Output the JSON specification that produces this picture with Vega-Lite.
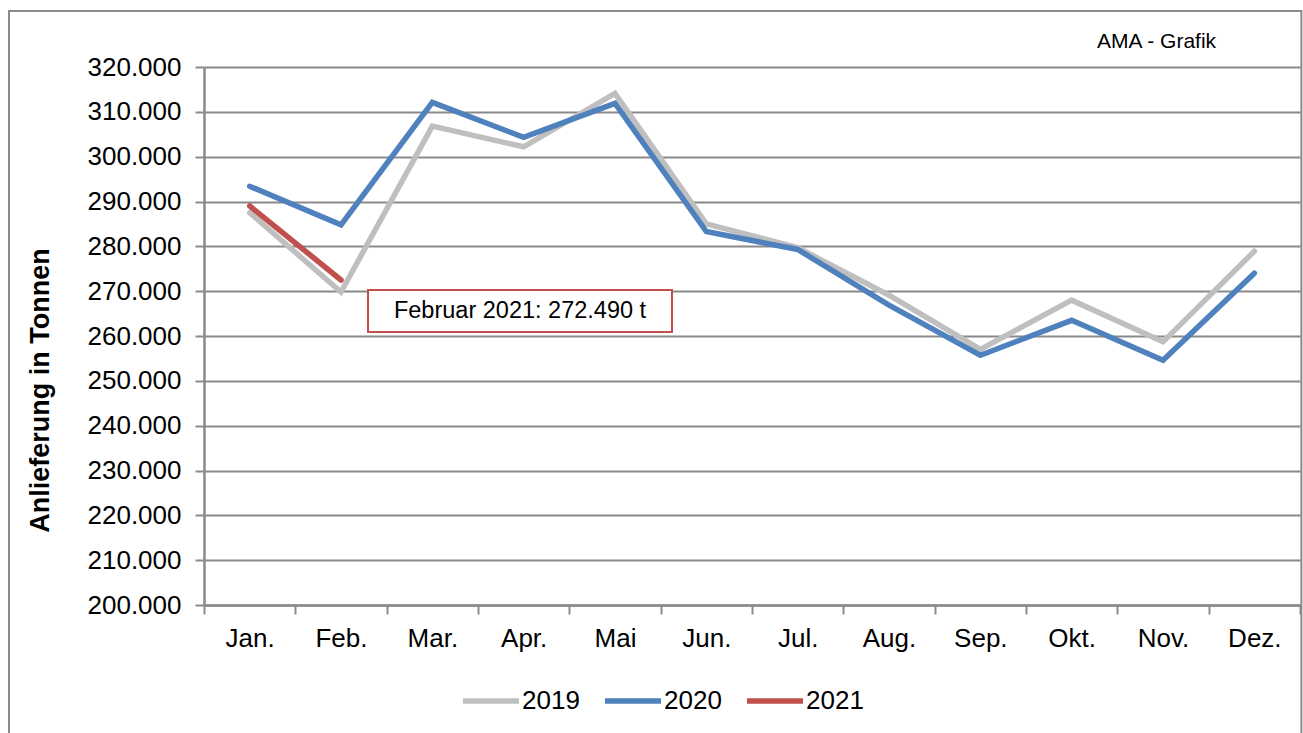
{
  "$schema": "https://vega.github.io/schema/vega-lite/v6.json",
  "width": 1096,
  "height": 538,
  "autosize": {"type": "none"},
  "padding": {"left": 204, "top": 67, "right": 3, "bottom": 128},
  "background": "white",
  "config": {
    "view": {"stroke": null},
    "font": "Liberation Sans",
    "axis": {"labelFont": "Liberation Sans", "titleFont": "Liberation Sans", "labelColor": "#000000", "titleColor": "#000000"}
  },
  "layer": [
    {
      "data": {"values": [{}]},
      "mark": {"type": "rect", "fill": null, "stroke": "#8A8A8A", "strokeWidth": 2},
      "encoding": {
        "x": {"datum": -1.635, "type": "quantitative"},
        "x2": {"datum": 12.515},
        "y": {"datum": 332500, "type": "quantitative"},
        "y2": {"datum": 169000}
      }
    },
    {
      "data": {
        "values": [
          {"month": 1, "year": "2019", "value": 287500},
          {"month": 2, "year": "2019", "value": 269800},
          {"month": 3, "year": "2019", "value": 306800},
          {"month": 4, "year": "2019", "value": 302200},
          {"month": 5, "year": "2019", "value": 314100},
          {"month": 6, "year": "2019", "value": 285000},
          {"month": 7, "year": "2019", "value": 279700},
          {"month": 8, "year": "2019", "value": 269100},
          {"month": 9, "year": "2019", "value": 257000},
          {"month": 10, "year": "2019", "value": 268000},
          {"month": 11, "year": "2019", "value": 258700},
          {"month": 12, "year": "2019", "value": 278900},
          {"month": 1, "year": "2020", "value": 293400},
          {"month": 2, "year": "2020", "value": 284800},
          {"month": 3, "year": "2020", "value": 312100},
          {"month": 4, "year": "2020", "value": 304300},
          {"month": 5, "year": "2020", "value": 311900},
          {"month": 6, "year": "2020", "value": 283300},
          {"month": 7, "year": "2020", "value": 279300},
          {"month": 8, "year": "2020", "value": 266900},
          {"month": 9, "year": "2020", "value": 255700},
          {"month": 10, "year": "2020", "value": 263500},
          {"month": 11, "year": "2020", "value": 254600},
          {"month": 12, "year": "2020", "value": 274000},
          {"month": 1, "year": "2021", "value": 289000},
          {"month": 2, "year": "2021", "value": 272490}
        ]
      },
      "mark": {"type": "line", "strokeWidth": 5.5, "strokeCap": "round"},
      "encoding": {
        "x": {
          "field": "month", "type": "quantitative",
          "scale": {"domain": [0.5, 12.5], "nice": false, "zero": false},
          "axis": {
            "values": [0.5, 1.5, 2.5, 3.5, 4.5, 5.5, 6.5, 7.5, 8.5, 9.5, 10.5, 11.5, 12.5],
            "labelExpr": "datum.value < 12 ? ['Jan.','Feb.','Mar.','Apr.','Mai','Jun.','Jul.','Aug.','Sep.','Okt.','Nov.','Dez.'][floor(datum.value)] : ''",
            "labelOffset": 45.67,
            "labelFlush": false,
            "labelOverlap": false,
            "labelBound": false,
            "labelFontSize": 26,
            "labelPadding": 11,
            "tickSize": 9,
            "tickWidth": 2,
            "tickColor": "#8A8A8A",
            "domainColor": "#8A8A8A",
            "domainWidth": 2.5,
            "grid": false,
            "title": null
          }
        },
        "y": {
          "field": "value", "type": "quantitative",
          "scale": {"domain": [200000, 320000], "nice": false, "zero": false},
          "axis": {
            "values": [200000, 210000, 220000, 230000, 240000, 250000, 260000, 270000, 280000, 290000, 300000, 310000, 320000],
            "labelExpr": "replace(format(datum.value, ',.0f'), ',', '.')",
            "labelFontSize": 26,
            "labelPadding": 14,
            "labelOverlap": false,
            "labelBound": false,
            "tickSize": 9,
            "tickWidth": 2,
            "tickColor": "#8A8A8A",
            "domainColor": "#8A8A8A",
            "domainWidth": 2.5,
            "grid": true,
            "gridColor": "#8A8A8A",
            "gridWidth": 2,
            "title": "Anlieferung in Tonnen",
            "titleFontSize": 27,
            "titleFontWeight": "bold",
            "titleX": -164,
            "titleY": 323,
            "titleAngle": -90,
            "titleAlign": "center",
            "titleBaseline": "middle"
          }
        },
        "color": {
          "field": "year", "type": "nominal",
          "scale": {"domain": ["2019", "2020", "2021"], "range": ["#BFBFBF", "#4F81BD", "#C0504D"]},
          "legend": {
            "title": null,
            "orient": "none",
            "legendX": 256,
            "legendY": 603,
            "direction": "horizontal",
            "symbolType": "stroke",
            "symbolSize": 3136,
            "symbolStrokeWidth": 5.5,
            "labelFontSize": 26,
            "labelFont": "Liberation Sans",
            "labelColor": "#000000",
            "labelOffset": 0,
            "columnPadding": 14,
            "symbolOffset": 0
          }
        },
        "order": {"field": "month"}
      }
    },
    {
      "data": {"values": [{}]},
      "mark": {"type": "rect", "fill": "white", "stroke": "#C0504D", "strokeWidth": 2},
      "encoding": {
        "x": {"datum": 2.296, "type": "quantitative"},
        "x2": {"datum": 5.624},
        "y": {"datum": 270260, "type": "quantitative"},
        "y2": {"datum": 260890}
      }
    },
    {
      "data": {"values": [{"label": "Februar 2021: 272.490 t"}]},
      "mark": {"type": "text", "fontSize": 23.5, "font": "Liberation Sans", "fill": "#000000", "align": "center", "baseline": "middle"},
      "encoding": {
        "x": {"datum": 3.96, "type": "quantitative"},
        "y": {"datum": 265500, "type": "quantitative"},
        "text": {"field": "label"}
      }
    },
    {
      "data": {"values": [{"label": "AMA - Grafik"}]},
      "mark": {"type": "text", "fontSize": 21, "font": "Liberation Sans", "fill": "#000000", "align": "center", "baseline": "middle"},
      "encoding": {
        "x": {"datum": 10.93, "type": "quantitative"},
        "y": {"datum": 325500, "type": "quantitative"},
        "text": {"field": "label"}
      }
    }
  ]
}
